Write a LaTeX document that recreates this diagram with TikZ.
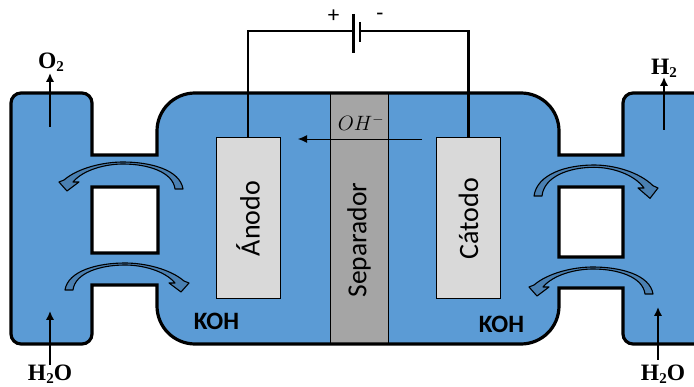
\documentclass[tikz,border=0pt]{standalone}
\usepackage{fontspec}
\setmainfont{Carlito}
\newfontfamily\gasfont{Liberation Serif}
\usepackage{xcolor}
\usepackage{tikz}
\usetikzlibrary{arrows.meta,positioning}
\definecolor{koh}{HTML}{5B9BD5}
\definecolor{sep}{HTML}{A5A5A5}
\definecolor{elec}{HTML}{D9D9D9}
\definecolor{bent}{HTML}{4A80B2}
\newcommand{\bentarrow}[3]{% apex, xscale, yscale
  \draw[bentline,shift={#1},xscale=#2,yscale=#3]
    (60,27) .. controls (57,8) and (28,0) .. (0,0)
    .. controls (-20,0) and (-45,6) .. (-59,18) -- (-64,20) -- (-56,29) -- (-44,20) -- (-50,20)
    .. controls (-40,8) and (-18,2) .. (0,2)
    .. controls (25,2) and (50,10) .. (52,27) -- cycle;
}
\newcommand{\gassub}{\raisebox{-3pt}{\fontsize{15}{15}\selectfont 2}}
\newcommand{\tankpath}{
  (92,155) [rounded corners=10pt] -- (92,93) -- (11,93) -- (11,344) -- (92,344) [sharp corners] -- (92,285)
  -- (157,285) [rounded corners=38pt] -- (157,344) -- (559,344) [sharp corners] -- (559,288)
  -- (623,288) [rounded corners=10pt] -- (623,344) -- (720,344) -- (720,93) -- (623,93) [sharp corners] -- (623,155)
  -- (559,155) [rounded corners=38pt] -- (559,93) -- (157,93) [sharp corners] -- (157,155) -- cycle
  (92,187) rectangle (158,253)
  (559,187) rectangle (623,257)
}
\begin{document}
\begin{tikzpicture}[
  x=1pt,y=-1pt,
  elecbox/.style={draw=black,line width=1pt,fill=elec,rotate=90,minimum width=161pt,minimum height=64pt,inner sep=0pt,font=\fontsize{28}{28}\selectfont},
  sepbox/.style={draw=black,line width=1pt,fill=sep,rotate=90,minimum width=251pt,minimum height=58pt,inner sep=0pt},
  wire/.style={line width=2.4pt},
  plate/.style={line width=2.2pt},
  flow/.style={-{Latex[length=9pt,width=8.5pt]},line width=2.2pt},
  bentline/.style={draw=black,line width=1.1pt,fill=bent,line join=round},
  gas/.style={font=\gasfont\bfseries\fontsize{23.5}{24}\selectfont,inner sep=0pt,anchor=base},
  kohlabel/.style={font=\bfseries\fontsize{25}{25}\selectfont,inner sep=0pt}
]
\clip (0,0) rectangle (694,387);
\path[fill=white] (0,0) rectangle (694,387);

\path[fill=koh,even odd rule] \tankpath;

\node[sepbox] (sepa) at (359,218.5) {};
\node[rotate=90,inner sep=0pt,font=\fontsize{27.5}{28}\selectfont] (sepalabel) at (359,240) {Separador};
\node[elecbox] (anodo) at (248,218.5) {Ánodo};
\node[elecbox] (catodo) at (468.5,218.5) {Cátodo};

\draw[line width=3.2pt] \tankpath;

% circuit
\coordinate (batpos) at (353.5,31);
\coordinate (batneg) at (360,31);
\draw[wire] (anodo.east) |- (batpos);
\draw[wire] (batneg) -| (catodo.east);
\draw[plate] (353.5,14) -- (353.5,53);
\draw[plate] (360,22) -- (360,42);
\node[inner sep=0pt,font=\fontsize{23}{23}\selectfont] (plus) at (333.5,16) {+};
\node[inner sep=0pt,font=\fontsize{23}{23}\selectfont] (minus) at (380,16.5) {-};

% ion path
\coordinate (ionstart) at (422,139);
\coordinate (ionend) at (298,139);
\draw[-{Latex[length=9pt,width=8pt]},line width=0.9pt] (ionstart) -- (ionend);
\node[inner sep=0pt,font=\fontsize{21}{21}\selectfont] (ion) at (361,123) {\(OH^-\)};

% gases
\node[gas] (otwo) at (51,68.5) {O\gassub};
\node[gas] (htwo) at (664,75) {H\gassub};
\node[gas] (wleft) at (50,381) {H\gassub O};
\node[gas] (wright) at (663,381) {H\gassub O};
\coordinate (otwostart) at (50,127);
\coordinate (otwoend) at (50,73);
\coordinate (htwostart) at (664,130);
\coordinate (htwoend) at (664,77);
\coordinate (wleftstart) at (50,365);
\coordinate (wleftend) at (50,311);
\coordinate (wrightstart) at (658,360);
\coordinate (wrightend) at (658,307);
\draw[flow] (otwostart) -- (otwoend);
\draw[flow] (htwostart) -- (htwoend);
\draw[flow] (wleftstart) -- (wleftend);
\draw[flow] (wrightstart) -- (wrightend);

\node[kohlabel] (kohl) at (216.5,321) {KOH};
\node[kohlabel] (kohr) at (501.5,324) {KOH};

\bentarrow{(123,162)}{1}{1}
\bentarrow{(125,263)}{-1}{1}
\bentarrow{(594,165)}{-1}{1.15}
\bentarrow{(593,267)}{1}{1}
\end{tikzpicture}
\end{document}
